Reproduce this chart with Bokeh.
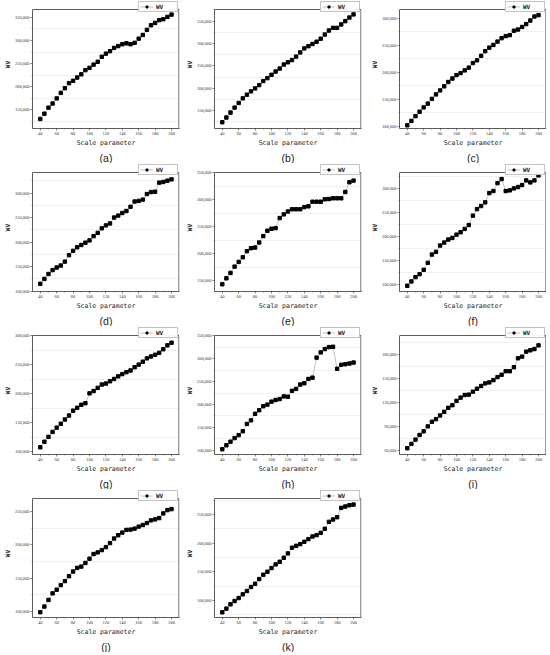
from bokeh.plotting import figure
from bokeh.models import FixedTicker, NumeralTickFormatter, Legend, LegendItem, Range1d
from bokeh.layouts import column, row
from bokeh.embed import file_html
from bokeh.resources import INLINE

scale = list(range(40, 205, 5))
x_ticks = [40, 60, 80, 100, 120, 140, 160, 180, 200]
x_minor = [50, 70, 90, 110, 130, 150, 170, 190]

wv_a = [130600, 142000, 155000, 164000, 175000, 187000, 197000, 208000, 213000, 220000, 227000,
        236000, 241000, 248000, 254000, 265000, 271600, 277000, 284000, 288000, 292000, 294000,
        292000, 295000, 304000, 312000, 323000, 333000, 338000, 344000, 346000, 351000, 356000]
wv_b = [124000, 134500, 145600, 156700, 167000, 177400, 185600, 193000, 199600, 207000, 216000,
        222600, 230000, 237400, 244000, 253000, 258000, 263000, 270700, 280000, 289000, 294000,
        299000, 304000, 310700, 320000, 329000, 335000, 335000, 342600, 350000, 358000, 365000]
wv_c = [101900, 110000, 118800, 127000, 135000, 142000, 150800, 159000, 166400, 174000, 182000,
        188400, 194700, 198400, 203400, 208500, 217000, 222000, 230400, 239000, 245500, 250500,
        256700, 263000, 266800, 268600, 276800, 279000, 283700, 289000, 295600, 303000, 305600]
wv_d = [114700, 124700, 134700, 142700, 148000, 152000, 160000, 173300, 182000, 189300, 194000,
        198700, 203300, 212000, 218700, 228000, 234000, 238000, 250000, 254000, 259300, 263300,
        272000, 282700, 284000, 286700, 298000, 302000, 302700, 321300, 322700, 325300, 328000]
wv_e = [143300, 154400, 164300, 176000, 184700, 193400, 204500, 210000, 211300, 220600, 232400,
        242300, 246000, 247200, 265800, 272600, 278000, 282000, 282000, 282000, 286000, 287500,
        296000, 296000, 296000, 300500, 301000, 302300, 302300, 302300, 314000, 332000, 335000]
wv_f = [97900, 106900, 115800, 122000, 131000, 145500, 162700, 168300, 181400, 187600, 193800,
        197200, 204000, 209000, 215900, 224000, 243400, 257000, 263400, 271000, 290300, 294500,
        311000, 319300, 294500, 295900, 300000, 302800, 307000, 316600, 312400, 316600, 327000]
wv_g = [107900, 117400, 125800, 134300, 141600, 148300, 155600, 162400, 170800, 175800, 180900,
        183700, 200600, 204500, 210000, 215700, 217400, 221300, 225300, 229800, 233700, 237000,
        239900, 245500, 250000, 255000, 260700, 264000, 266900, 270200, 276400, 283100, 287600]
wv_h = [102200, 110800, 118700, 126600, 133000, 141700, 157500, 165400, 179700, 187600, 196300,
        199900, 206300, 209900, 212000, 217800, 217100, 230000, 234300, 243700, 246600, 255900,
        258800, 302600, 314000, 321300, 325600, 326300, 278200, 286800, 288200, 289700, 291800]
wv_i = [62500, 67900, 73300, 79100, 83700, 89900, 95700, 99000, 103600, 108200, 113200,
        116500, 121900, 126000, 129300, 129800, 133500, 137200, 140600, 143900, 145100, 148000,
        151800, 154700, 159200, 159200, 164200, 175400, 177500, 183700, 185400, 187000, 191600]
wv_j = [98500, 107000, 117000, 126900, 132400, 139400, 145400, 152800, 159800, 165300, 167300,
        172800, 179200, 186200, 188700, 192200, 196700, 202700, 209600, 214600, 218600, 222600,
        223100, 224600, 227600, 230000, 233000, 237000, 238500, 240500, 247500, 252500, 254000]
wv_k = [79100, 85500, 93000, 98800, 104000, 110500, 116300, 123300, 129000, 137200, 144800,
        150000, 156400, 162800, 167400, 174400, 182000, 191900, 195300, 198300, 202300, 207000,
        211600, 214000, 218000, 225000, 237200, 241300, 245300, 261600, 264000, 266300, 267400]

panel_labels = ["(a)", "(b)", "(c)", "(d)", "(e)", "(f)", "(g)", "(h)", "(i)", "(j)", "(k)"]
series = [wv_a, wv_b, wv_c, wv_d, wv_e, wv_f, wv_g, wv_h, wv_i, wv_j, wv_k]
y_ticks = [
    [150000, 200000, 250000, 300000, 350000],
    [150000, 200000, 250000, 300000, 350000],
    [100000, 150000, 200000, 250000, 300000],
    [100000, 150000, 200000, 250000, 300000],
    [150000, 200000, 250000, 300000, 350000],
    [100000, 150000, 200000, 250000, 300000],
    [100000, 150000, 200000, 250000, 300000],
    [100000, 150000, 200000, 250000, 300000, 350000],
    [60000, 90000, 120000, 150000, 180000],
    [100000, 150000, 200000, 250000],
    [100000, 150000, 200000, 250000],
]
y_ranges = [(110000, 367000), (110000, 376000), (96000, 316000), (99000, 342000),
            (130000, 350000), (86000, 333000), (95500, 300000), (90700, 351000),
            (54600, 204000), (90500, 270000), (70000, 278000)]
x_lo, x_hi = 30.5, 209

BOX_W = 147      # px width of plotted box
BOX_H = 119      # px height of plotted box
LEG_H = 9        # px strip above the box that holds the legend
col_right = [3, 6, 0]

SERIF = "Liberation Serif"
MONO = "DejaVu Sans Mono"
EDGE = "#333333"


def make_panel(i):
    r, c = divmod(i, 3)
    ys = series[i]
    ticks = y_ticks[i]
    y0, y1 = y_ranges[i]
    step = ticks[1] - ticks[0]
    minor = [t - step / 2 for t in ticks] + [ticks[-1] + step / 2]
    minor = [m for m in minor if y0 < m < y1]
    y_top = y1 + (y1 - y0) * LEG_H / BOX_H
    x_edge = x_hi + (x_hi - x_lo) * 0.6 / BOX_W
    p = figure(frame_width=BOX_W, frame_height=BOX_H + LEG_H, output_backend="svg",
               toolbar_location=None,
               x_range=Range1d(x_lo, x_edge), y_range=Range1d(y0, y_top),
               min_border_left=25, min_border_right=col_right[c], min_border_top=0,
               min_border_bottom=0, title_location="below")
    p.title.text = panel_labels[i]
    p.title.align = "center"
    p.title.text_font = "Liberation Sans"
    p.title.text_font_size = "10.5px"
    p.title.text_font_style = "normal"
    p.title.text_color = "#222222"
    p.title.standoff = 0
    p.title.offset = 0

    p.outline_line_color = None
    p.background_fill_color = "white"
    p.border_fill_color = "white"

    p.xaxis.ticker = FixedTicker(ticks=x_ticks, minor_ticks=x_minor)
    p.yaxis.ticker = FixedTicker(ticks=ticks, minor_ticks=minor)
    p.yaxis.formatter = NumeralTickFormatter(format="0,0")
    p.yaxis.bounds = (y0, y1)
    for ax in (p.xaxis, p.yaxis):
        ax.axis_line_color = EDGE
        ax.axis_line_width = 0.8
        ax.major_tick_line_color = EDGE
        ax.major_tick_line_width = 0.6
        ax.minor_tick_line_color = "#555555"
        ax.minor_tick_line_width = 0.5
        ax.major_tick_out = 2
        ax.major_tick_in = 0
        ax.minor_tick_out = 1
        ax.minor_tick_in = 0
        ax.major_label_text_font = SERIF
        ax.major_label_text_font_size = "4.5px"
        ax.major_label_text_color = "#333333"
        ax.major_label_standoff = 1
        ax.axis_label_text_font = MONO
        ax.axis_label_text_color = "#222222"
    p.xaxis.axis_label = "Scale parameter"
    p.xaxis.axis_label_text_font_size = "6.5px"
    p.xaxis.axis_label_text_font_style = "normal"
    p.xaxis.axis_label_standoff = 1
    p.yaxis.axis_label = "WV"
    p.yaxis.axis_label_text_font_size = "6px"
    p.yaxis.axis_label_text_font_style = "bold"
    p.yaxis.axis_label_standoff = 1

    p.xgrid.grid_line_color = None
    p.ygrid.grid_line_color = None
    p.ygrid.minor_grid_line_color = "#e6e6e6"
    p.ygrid.minor_grid_line_width = 0.6

    # top and right edges of the plotted box
    p.segment(x0=[x_lo, x_hi], y0=[y1, y0], x1=[x_hi, x_hi], y1=[y1, y1],
              line_color=EDGE, line_width=0.8)

    ln = p.line(scale, ys, line_color="#9a9a9a", line_width=0.6)
    sc = p.scatter(scale, ys, marker="square", size=3.4, fill_color="black", line_color="black")
    leg = Legend(items=[LegendItem(label="WV", renderers=[ln, sc])],
                 location="top_right", orientation="vertical")
    leg.label_text_font = MONO
    leg.label_text_font_size = "6px"
    leg.label_text_font_style = "bold"
    leg.label_text_color = "#222222"
    leg.label_height = 5
    leg.label_standoff = 3
    leg.glyph_width = 13
    leg.glyph_height = 5
    leg.padding = 1
    leg.spacing = 0
    leg.margin = 1
    leg.border_line_color = "#888888"
    leg.border_line_width = 0.6
    leg.background_fill_color = "white"
    p.add_layout(leg)
    return p


panels = [make_panel(i) for i in range(11)]
layout = column(
    row(panels[0], panels[1], panels[2]),
    row(panels[3], panels[4], panels[5]),
    row(panels[6], panels[7], panels[8]),
    row(panels[9], panels[10]),
)

open("out.html", "w").write(file_html(layout, INLINE))
